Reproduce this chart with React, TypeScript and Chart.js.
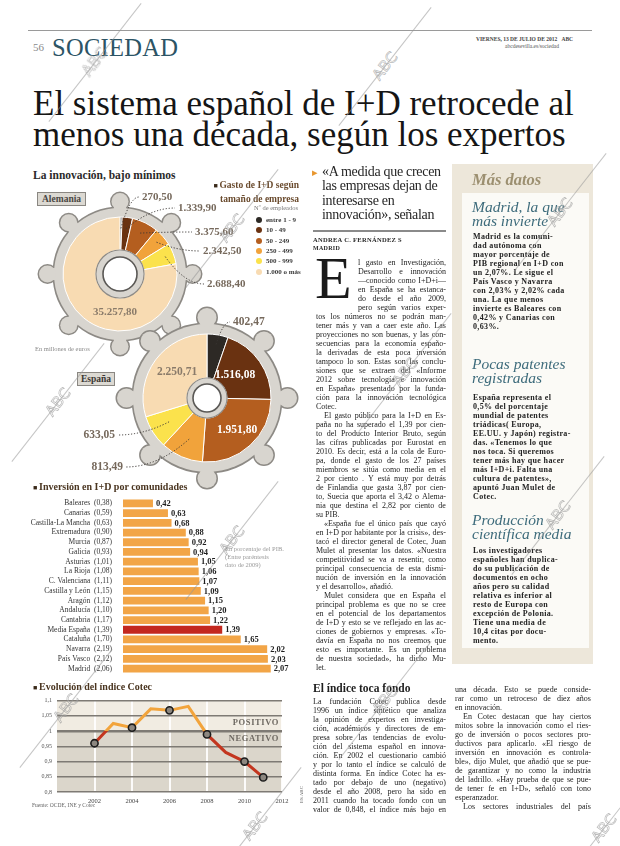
import React, { useEffect, useRef } from 'react';
import { Chart, registerables } from 'chart.js';

Chart.register(...registerables);

const SERIF = '"Liberation Serif", "Times New Roman", serif';
Chart.defaults.font.family = SERIF;

// ---------------- data ----------------
const SIZE_CLASSES = ['entre 1 - 9', '10 - 49', '50 - 249', '250 - 499', '500 - 999', '1.000 o más'];
const SIZE_COLORS = ['#2d2925', '#6a3211', '#b45e1f', '#f1a33b', '#fbe24c', '#f8dbb2'];
const GERMANY_SPEND = [270.5, 1339.9, 3375.6, 2342.5, 2688.4, 35257.8];
const SPAIN_SPEND = [402.47, 1516.08, 1951.8, 813.49, 633.05, 2250.71];

const REGIONS = ['Baleares', 'Canarias', 'Castilla-La Mancha', 'Extremadura', 'Murcia', 'Galicia', 'Asturias', 'La Rioja', 'C. Valenciana', 'Castilla y León', 'Aragón', 'Andalucía', 'Cantabria', 'Media España', 'Cataluña', 'Navarra', 'País Vasco', 'Madrid'];
const REGION_2009 = [0.38, 0.59, 0.63, 0.9, 0.87, 0.93, 1.01, 1.08, 1.11, 1.15, 1.12, 1.1, 1.17, 1.39, 1.7, 2.19, 2.12, 2.06];
const REGION_2010 = [0.42, 0.63, 0.68, 0.88, 0.92, 0.94, 1.05, 1.06, 1.07, 1.09, 1.15, 1.2, 1.22, 1.39, 1.65, 2.02, 2.03, 2.07];
const HIGHLIGHT_REGION = 'Media España';

const COTEC_YEARS = [2002, 2003, 2004, 2005, 2006, 2007, 2008, 2009, 2010, 2011];
const COTEC_INDEX = [0.96, 1.025, 1.011, 1.073, 1.068, 1.081, 0.989, 0.93, 0.9, 0.848];
const COTEC_MARKED = [2002, 2004, 2006, 2008, 2010, 2011];
const COTEC_X_TICKS = [2000, 2002, 2004, 2006, 2008, 2010, 2012];
const COTEC_Y_TICKS = [0.8, 0.85, 0.9, 0.95, 1, 1.05, 1.1];

// ---------------- text ----------------
const HEAD_LINES = ['El sistema español de I+D retrocede al', 'menos una década, según los expertos'];
const QUOTE_LINES = ['«A medida que crecen', 'las empresas dejan de', 'interesarse en', 'innovación», señalan'];
const COL2_TOP = [
  'l gasto en Investigación,', 'Desarrollo e innovación', '—conocido como I+D+i—', 'en España se ha estanca-',
  'do desde el año 2009,', 'pero según varios exper-', 'tos los números no se podrán man-', 'tener más y van a caer este año. Las',
  'proyecciones no son buenas, y las con-', 'secuencias para la economía españo-', 'la derivadas de esta poca inversión',
  'tampoco lo son. Estas son las conclu-', 'siones que se extraen del «Informe', '2012 sobre tecnología e innovación',
  'en España» presentado por la funda-', 'ción para la innovación tecnológica', 'Cotec.$',
  '^El gasto público para la I+D en Es-', 'paña no ha superado el 1,39 por cien-', 'to del Producto Interior Bruto, según',
  'las cifras publicadas por Eurostat en', '2010. Es decir, está a la cola de Euro-', 'pa, donde el gasto de los 27 países',
  'miembros se sitúa como media en el', '2 por ciento . Y está muy por detrás', 'de Finlandia que gasta 3,87 por cien-',
  'to, Suecia que aporta el 3,42 o Alema-', 'nia que destina el 2,82 por ciento de', 'su PIB.$',
  '^«España fue el único país que cayó', 'en I+D por habitante por la crisis», des-', 'tacó el director general de Cotec, Juan',
  'Mulet al presentar los datos. «Nuestra', 'competitividad se va a resentir, como', 'principal consecuencia de esta dismi-',
  'nución de inversión en la innovación', 'y el desarrollo», añadió.$',
  '^Mulet considera que en España el', 'principal problema es que no se cree', 'en el potencial de los departamentos',
  'de I+D y esto se ve reflejado en las ac-', 'ciones de gobiernos y empresas. «To-', 'davía en España no nos creemos que',
  'esto es importante. Es un problema', 'de nuestra sociedad», ha dicho Mu-', 'let.$',
];
const COL2_BOTTOM = [
  'La fundación Cotec publica desde', '1996 un índice sintético que analiza', 'la opinión de expertos en investiga-',
  'ción, académicos y directores de em-', 'presa sobre las tendencias de evolu-', 'ción del sistema español en innova-',
  'ción. En 2002 el cuestionario cambió', 'y por lo tanto el índice se calculó de', 'distinta forma. En índice Cotec ha es-',
  'tado por debajo de uno (negativo)', 'desde el año 2008, pero ha sido en', '2011 cuando ha tocado fondo con un',
  'valor de 0,848, el índice más bajo en',
];
const COL3_BOTTOM = [
  'una década. Esto se puede conside-', 'rar como un retroceso de diez años', 'en innovación.$',
  '^En Cotec destacan que hay ciertos', 'mitos sobre la innovación como el ries-', 'go de inversión o pocos sectores pro-',
  'ductivos para aplicarlo. «El riesgo de', 'inversión en innovación es controla-', 'ble», dijo Mulet, que añadió que se pue-',
  'de garantizar y no como la industria', 'del ladrillo. «Hay prueba de que se pue-', 'de tener fe en I+D», señaló con tono',
  'esperanzador.$', '^Los sectores industriales del país',
];
const BOX_MADRID = ['Madrid es la comuni-', 'dad autónoma con', 'mayor porcentaje de', 'PIB regional en I+D con', 'un 2,07%. Le sigue el', 'País Vasco y Navarra', 'con 2,03% y 2,02% cada', 'una. La que menos', 'invierte es Baleares con', '0,42% y Canarias con', '0,63%.'];
const BOX_PATENTS = ['España representa el', '0,5% del porcentaje', 'mundial de patentes', 'triádicas( Europa,', 'EE.UU. y Japón) registra-', 'das. «Tenemos lo que', 'nos toca. Si queremos', 'tener más hay que hacer', 'más I+D+i. Falta una', 'cultura de patentes»,', 'apuntó Juan Mulet de', 'Cotec.'];
const BOX_SCIENCE = ['Los investigadores', 'españoles han duplica-', 'do su publicación de', 'documentos en ocho', 'años pero su calidad', 'relativa es inferior al', 'resto de Europa con', 'excepción de Polonia.', 'Tiene una media de', '10,4 citas por docu-', 'mento.'];

// watermark anchors (page decoration)
const WATERMARKS: Array<[number, number]> = [
  [95, 62], [385, 66], [232, 228], [560, 212], [405, 372], [58, 402],
  [232, 540], [558, 515], [66, 708], [385, 700], [255, 826], [604, 828],
];

function fmtEs(v: number, d = 2) {
  const [i, f] = v.toFixed(d).split('.');
  const ii = i.replace(/\B(?=(\d{3})+(?!\d))/g, '.');
  return f ? ii + ',' + f : ii;
}

// ---------------- gear doughnuts ----------------
type LabelSpec = { mode: 'in' | 'out'; dx: number; dy: number; align: CanvasTextAlign; color: string; r?: number };
type GearSpec = { ring: number; tip: number; knob: number; neck: number; teeth: number; hole: number; fill: string; stroke: string };

const GERMANY_LABELS: LabelSpec[] = [
  { mode: 'out', dx: 22, dy: -77, align: 'left', color: '#76695c', r: 0.8 },
  { mode: 'out', dx: 58, dy: -66, align: 'left', color: '#76695c', r: 0.8 },
  { mode: 'out', dx: 75, dy: -42, align: 'left', color: '#76695c', r: 0.8 },
  { mode: 'out', dx: 83, dy: -23, align: 'left', color: '#76695c', r: 0.85 },
  { mode: 'out', dx: 87, dy: 10, align: 'left', color: '#76695c', r: 0.85 },
  { mode: 'in', dx: -5, dy: 38, align: 'center', color: '#8a7b6a' },
];
const SPAIN_LABELS: LabelSpec[] = [
  { mode: 'out', dx: 26, dy: -76, align: 'left', color: '#76695c', r: 0.85 },
  { mode: 'in', dx: 28, dy: -23, align: 'center', color: '#ffffff' },
  { mode: 'in', dx: 30, dy: 32, align: 'center', color: '#ffffff' },
  { mode: 'out', dx: -84, dy: 69, align: 'right', color: '#76695c', r: 0.7 },
  { mode: 'out', dx: -92, dy: 37, align: 'right', color: '#76695c', r: 0.7 },
  { mode: 'in', dx: -30, dy: -26, align: 'center', color: '#8a7b6a' },
];

function drawGear(c: CanvasRenderingContext2D, x: number, y: number, R: number, g: GearSpec) {
  const ring = R + g.ring;
  const tipC = R + g.tip - g.knob;
  const shapes: Array<() => void> = [];
  shapes.push(() => { c.beginPath(); c.arc(x, y, ring, 0, Math.PI * 2); });
  for (let k = 0; k < g.teeth; k++) {
    const a = (k * 2 * Math.PI) / g.teeth;
    const ux = Math.sin(a), uy = -Math.cos(a);
    const px = Math.cos(a), py = Math.sin(a);
    const r0 = ring - 4, r1 = tipC, hw = g.neck / 2;
    shapes.push(() => {
      c.beginPath();
      c.moveTo(x + ux * r0 + px * hw, y + uy * r0 + py * hw);
      c.lineTo(x + ux * r1 + px * hw, y + uy * r1 + py * hw);
      c.lineTo(x + ux * r1 - px * hw, y + uy * r1 - py * hw);
      c.lineTo(x + ux * r0 - px * hw, y + uy * r0 - py * hw);
      c.closePath();
    });
    shapes.push(() => { c.beginPath(); c.arc(x + ux * tipC, y + uy * tipC, g.knob, 0, Math.PI * 2); });
  }
  c.save();
  c.lineWidth = 3;
  c.strokeStyle = g.stroke;
  c.fillStyle = g.fill;
  for (const s of shapes) { s(); c.stroke(); }
  for (const s of shapes) { s(); c.fill(); }
  c.restore();
}

function GearDonut(props: {
  values: number[]; labels: LabelSpec[]; left: number; top: number; width: number; height: number;
  cx: number; cy: number; radius: number; inner: number; gear: GearSpec; font: number;
}) {
  const ref = useRef<HTMLCanvasElement>(null);
  useEffect(() => {
    const { values, left, top, width, height, cx, cy, radius, inner, gear, labels, font } = props;
    const rx = cx - left, ry = cy - top;
    const pad = {
      left: Math.max(0, 2 * rx - width), right: Math.max(0, width - 2 * rx),
      top: Math.max(0, 2 * ry - height), bottom: Math.max(0, height - 2 * ry),
    };
    const plugin = {
      id: 'gearDecor',
      beforeDatasetsDraw(chart: any) {
        const arc = chart.getDatasetMeta(0).data[0];
        if (!arc) return;
        drawGear(chart.ctx, arc.x, arc.y, arc.outerRadius, gear);
      },
      afterDatasetsDraw(chart: any) {
        const arcs = chart.getDatasetMeta(0).data;
        if (!arcs.length) return;
        const c: CanvasRenderingContext2D = chart.ctx;
        const { x, y, innerRadius, outerRadius } = arcs[0];
        c.save();
        c.beginPath(); c.arc(x, y, innerRadius, 0, Math.PI * 2);
        c.strokeStyle = gear.stroke; c.lineWidth = 1.2; c.stroke();
        c.beginPath(); c.arc(x, y, gear.hole, 0, Math.PI * 2);
        c.fillStyle = '#ffffff'; c.fill();
        c.strokeStyle = '#5a5855'; c.lineWidth = 1.6; c.stroke();
        arcs.forEach((arc: any, i: number) => {
          const L = labels[i];
          const lx = x + L.dx, ly = y + L.dy;
          if (L.mode === 'out') {
            const mid = (arc.startAngle + arc.endAngle) / 2;
            const rr = (L.r ?? 0.8) * outerRadius;
            const sx = x + Math.cos(mid) * rr, sy = y + Math.sin(mid) * rr;
            const ex = L.align === 'left' ? lx - 3 : lx + 3;
            c.setLineDash([1.2, 1.8]);
            c.lineWidth = 1;
            c.strokeStyle = '#3a3633';
            c.beginPath();
            c.moveTo(sx, sy);
            c.quadraticCurveTo((sx + ex) / 2, ly, ex, ly);
            c.stroke();
            c.setLineDash([]);
          }
          c.font = `bold ${font}px ${SERIF}`;
          c.fillStyle = L.color;
          c.textAlign = L.align;
          c.textBaseline = 'middle';
          c.fillText(fmtEs(values[i]), lx, ly);
        });
        c.restore();
      },
    };
    const chart = new Chart(ref.current!, {
      type: 'doughnut',
      data: {
        labels: SIZE_CLASSES,
        datasets: [{ data: values, backgroundColor: SIZE_COLORS, borderColor: '#ffffff', borderWidth: 1 }],
      },
      options: {
        responsive: false,
        animation: false,
        radius,
        cutout: `${(inner / radius) * 100}%`,
        layout: { padding: pad },
        plugins: { legend: { display: false }, tooltip: { enabled: false } },
      } as any,
      plugins: [plugin],
    });
    return () => chart.destroy();
  }, []);
  return (
    <canvas ref={ref} width={props.width} height={props.height}
      style={{ position: 'absolute', left: props.left, top: props.top, width: props.width, height: props.height }} />
  );
}

// ---------------- bars ----------------
function RegionBars() {
  const ref = useRef<HTMLCanvasElement>(null);
  useEffect(() => {
    const valuePlugin = {
      id: 'barValues',
      afterDatasetsDraw(chart: any) {
        const c: CanvasRenderingContext2D = chart.ctx;
        const meta = chart.getDatasetMeta(0);
        c.save();
        c.font = `bold 8.5px ${SERIF}`;
        c.fillStyle = '#1e1e1e';
        c.textAlign = 'left';
        c.textBaseline = 'middle';
        meta.data.forEach((bar: any, i: number) => {
          c.fillText(fmtEs(REGION_2010[i]), bar.x + 3, bar.y + 0.5);
        });
        c.restore();
      },
    };
    const chart = new Chart(ref.current!, {
      type: 'bar',
      data: {
        labels: REGIONS,
        datasets: [{
          data: REGION_2010,
          backgroundColor: REGIONS.map((r) => (r === HIGHLIGHT_REGION ? '#c3281f' : '#f2a547')),
          borderWidth: 0,
          barPercentage: 0.8,
          categoryPercentage: 1,
        }],
      },
      options: {
        indexAxis: 'y',
        responsive: false,
        animation: false,
        layout: { padding: { top: 3, bottom: 3, left: 0, right: 0 } },
        scales: {
          x: { display: false, min: 0, max: 2.55 },
          y: {
            afterFit: (s: any) => { s.width = 93; },
            grid: { display: false },
            border: { display: false },
            ticks: {
              autoSkip: false,
              padding: 3,
              color: '#333',
              font: { family: SERIF, size: 7.5 },
              callback: (_v: any, i: number) => `${REGIONS[i]}  (${fmtEs(REGION_2009[i])})`,
            },
          },
        },
        plugins: { legend: { display: false }, tooltip: { enabled: false } },
      } as any,
      plugins: [valuePlugin],
    });
    return () => chart.destroy();
  }, []);
  return <canvas ref={ref} width={275} height={190} style={{ position: 'absolute', left: 30, top: 491, width: 275, height: 190 }} />;
}

// ---------------- line ----------------
function CotecLine() {
  const ref = useRef<HTMLCanvasElement>(null);
  useEffect(() => {
    const ORANGE = '#f2a43c', RED = '#c3361f';
    const backdrop = {
      id: 'cotecBackdrop',
      beforeDraw(chart: any) {
        const { ctx: c, chartArea: a, scales } = chart;
        const y1 = scales.y.getPixelForValue(1);
        c.save();
        c.fillStyle = '#f1ece2';
        c.fillRect(a.left, a.top, a.width, y1 - a.top);
        c.fillStyle = '#dbd6cb';
        c.fillRect(a.left, y1, a.width, a.bottom - y1);
        c.restore();
      },
      beforeDatasetsDraw(chart: any) {
        const { ctx: c, chartArea: a, scales } = chart;
        const y1 = scales.y.getPixelForValue(1);
        c.save();
        c.font = `bold 8.5px ${SERIF}`;
        c.fillStyle = '#6e6962';
        c.textAlign = 'right';
        c.textBaseline = 'middle';
        (c as any).letterSpacing = '0.6px';
        c.fillText('POSITIVO', a.right - 3, y1 - 8);
        c.fillText('NEGATIVO', a.right - 3, y1 + 8);
        c.restore();
      },
    };
    const chart = new Chart(ref.current!, {
      type: 'line',
      data: {
        datasets: [{
          data: COTEC_YEARS.map((x, i) => ({ x, y: COTEC_INDEX[i] })),
          borderColor: (ctx: any) => {
            const { chart } = ctx;
            const a = chart.chartArea;
            if (!a) return ORANGE;
            const y1 = chart.scales.y.getPixelForValue(1);
            const g = chart.ctx.createLinearGradient(0, a.top, 0, a.bottom);
            const t = Math.min(1, Math.max(0, (y1 - a.top) / (a.bottom - a.top)));
            g.addColorStop(0, ORANGE); g.addColorStop(t, ORANGE);
            g.addColorStop(t, RED); g.addColorStop(1, RED);
            return g;
          },
          borderWidth: 3,
          tension: 0,
          fill: false,
          pointRadius: (ctx: any) => (COTEC_MARKED.includes(COTEC_YEARS[ctx.dataIndex]) ? 3.6 : 0),
          pointBackgroundColor: '#8c8780',
          pointBorderColor: '#1c1c1c',
          pointBorderWidth: 1.6,
        }],
      },
      options: {
        responsive: false,
        animation: false,
        layout: { padding: { top: 7, right: 18, bottom: 2, left: 0 } },
        scales: {
          x: {
            type: 'linear', min: 2000, max: 2012,
            afterBuildTicks: (s: any) => { s.ticks = COTEC_X_TICKS.map((v) => ({ value: v })); },
            afterFit: (s: any) => { s.height = 14; },
            grid: {
              color: (c: any) => (c.tick && c.tick.value === 2000 ? 'rgba(0,0,0,0)' : 'rgba(255,255,255,0.9)'),
              lineWidth: 2, drawTicks: false,
            },
            border: { display: false },
            ticks: {
              autoSkip: false, maxRotation: 0, padding: 5, color: '#444',
              font: { family: SERIF, size: 6.5 },
              callback: (v: any) => (v === 2000 ? '' : String(v)),
            },
          },
          y: {
            min: 0.8, max: 1.1,
            afterBuildTicks: (s: any) => { s.ticks = COTEC_Y_TICKS.map((v) => ({ value: v })); },
            afterFit: (s: any) => { s.width = 27; },
            grid: {
              color: '#7e7a74',
              lineWidth: (c: any) => (c.tick && c.tick.value === 1 ? 2.4 : 1.4),
              drawTicks: false,
            },
            border: { display: false },
            ticks: {
              padding: 5, color: '#555', font: { family: SERIF, size: 6 },
              callback: (v: any) => String(v).replace('.', ','),
            },
          },
        },
        plugins: { legend: { display: false }, tooltip: { enabled: false } },
      } as any,
      plugins: [backdrop],
    });
    return () => chart.destroy();
  }, []);
  return <canvas ref={ref} width={270} height={116} style={{ position: 'absolute', left: 30, top: 692, width: 270, height: 116 }} />;
}

// ---------------- text helpers ----------------
function Lines(p: {
  lines: string[]; left: number; top: number; width: number; lh?: number; size?: number; bold?: boolean;
  justify?: boolean; indent?: number; drop?: number; dropIndent?: number; color?: string; spacing?: number;
}) {
  const { lines, left, top, width, lh = 9, size = 8, bold = false, justify = true, indent = 8, drop = 0, dropIndent = 0, color = '#232323', spacing = 0 } = p;
  return (
    <div style={{ position: 'absolute', left, top, width, fontSize: size, lineHeight: `${lh}px`, fontWeight: bold ? 700 : 400, color, letterSpacing: spacing }}>
      {lines.map((raw, i) => {
        let s = raw, pad = 0, last = !justify;
        if (s.startsWith('^')) { s = s.slice(1); pad = indent; }
        if (s.endsWith('$')) { s = s.slice(0, -1); last = true; }
        if (i < drop) pad += dropIndent;
        const words = s.split(' ').filter(Boolean);
        return (
          <div key={i} style={{ height: lh, paddingLeft: pad, display: 'flex', justifyContent: last ? 'flex-start' : 'space-between', whiteSpace: 'pre', columnGap: last ? 0 : 1 }}>
            {last ? s : words.map((w, j) => <span key={j}>{w}</span>)}
          </div>
        );
      })}
    </div>
  );
}

function Watermark({ x, y }: { x: number; y: number }) {
  return (
    <>
      <div style={{ position: 'absolute', left: x - 75, top: y, width: 150, height: 1, background: 'rgba(150,150,150,0.55)', transform: 'rotate(-52deg)', transformOrigin: 'center' }} />
      <div style={{ position: 'absolute', left: x - 20, top: y - 9, width: 40, textAlign: 'center', fontFamily: '"DejaVu Sans", sans-serif', fontSize: 15, lineHeight: '18px', color: 'rgba(255,255,255,0.2)', WebkitTextStroke: '0.7px rgba(140,140,140,0.6)', transform: 'rotate(-52deg)', transformOrigin: 'center' } as any}>ABC</div>
    </>
  );
}

const abs = (left: number, top: number, extra: React.CSSProperties = {}): React.CSSProperties => ({ position: 'absolute', left, top, whiteSpace: 'nowrap', ...extra });

export default function App() {
  return (
    <div style={{ position: 'absolute', left: 0, top: 0, width: 620, height: 846, background: '#ffffff', overflow: 'hidden', fontFamily: SERIF, color: '#222' }}>
      {/* header */}
      <div style={abs(28, 30, { width: 564, height: 1, background: '#9a9a9a' })} />
      <div style={abs(33, 41, { fontSize: 11, color: '#8a8a8a' })}>56</div>
      <div style={abs(52, 33, { fontSize: 24.5, color: '#2c5465', letterSpacing: 0.3, lineHeight: '30px' })}>SOCIEDAD</div>
      <div style={abs(476, 36, { fontSize: 5.5, fontWeight: 700, color: '#444', lineHeight: '7px' })}>VIERNES, 13 DE JULIO DE 2012&nbsp;&nbsp;&nbsp;ABC</div>
      <div style={abs(505, 43, { fontSize: 5.5, color: '#555', lineHeight: '7px' })}>abcdesevilla.es/sociedad</div>

      <div style={abs(33, 88, { fontSize: 35, lineHeight: '31px', color: '#151515' })}>
        {HEAD_LINES.map((l, i) => <div key={i}>{l}</div>)}
      </div>

      {/* left column: charts */}
      <div style={abs(33, 169, { fontSize: 11.5, fontWeight: 700, color: '#2a2a2a' })}>La innovación, bajo mínimos</div>

      <GearDonut values={GERMANY_SPEND} labels={GERMANY_LABELS} left={20} top={180} width={240} height={190}
        cx={120} cy={274} radius={57} inner={24} font={11}
        gear={{ ring: 9, tip: 24, knob: 8.5, neck: 12, teeth: 8, hole: 17, fill: '#d8d5cf', stroke: '#8d8a85' }} />
      <GearDonut values={SPAIN_SPEND} labels={SPAIN_LABELS} left={70} top={300} width={240} height={196}
        cx={207} cy={398} radius={64} inner={20} font={11.5}
        gear={{ ring: 10, tip: 26, knob: 9.5, neck: 13, teeth: 8, hole: 14, fill: '#d8d5cf', stroke: '#8d8a85' }} />

      <div style={abs(37, 192, { fontSize: 9.5, fontWeight: 700, color: '#4a4744', background: '#dcd9d2', border: '1px solid #8a8782', padding: '0 4px', lineHeight: '12px' })}>Alemania</div>
      <div style={abs(77, 372, { fontSize: 9.5, fontWeight: 700, color: '#3a3734', background: '#dcd9d2', border: '1px solid #8a8782', padding: '0 3px', lineHeight: '12px' })}>España</div>
      <div style={abs(35, 345, { fontSize: 6.5, color: '#8a8a8a' })}>En millones de euros</div>

      <div style={abs(200, 178.5, { width: 99, textAlign: 'right', fontSize: 9.5, fontWeight: 700, color: '#6a4b2e', lineHeight: '13px' })}>
        <span style={{ fontSize: 7, color: '#3a2a1a' }}>■ </span>Gasto de I+D según<br />tamaño de empresa
      </div>
      <div style={abs(230, 204, { width: 68, textAlign: 'right', fontSize: 6.5, color: '#7a7a7a' })}>Nº de empleados</div>
      {SIZE_CLASSES.map((cl, i) => (
        <div key={cl} style={abs(256, 215.5 + i * 10.3, { height: 9, display: 'flex', alignItems: 'center', fontSize: 7, fontWeight: 700, color: '#3a3a3a' })}>
          <span style={{ display: 'inline-block', width: 6, height: 6, borderRadius: 3, background: SIZE_COLORS[i], marginRight: 4 }} />
          {cl}
        </div>
      ))}

      <div style={abs(33, 481, { fontSize: 10, fontWeight: 700, color: '#4a3520' })}>
        <span style={{ fontSize: 7, color: '#3a2a1a' }}>■ </span>Inversión en I+D por comunidades
      </div>
      <RegionBars />
      <div style={abs(225, 545, { fontSize: 6.5, color: '#9a9a9a', lineHeight: '8px' })}>
        En porcentaje del PIB.<br />(Entre paréntesis<br />dato de 2009)
      </div>

      <div style={abs(33, 681, { fontSize: 10, fontWeight: 700, color: '#4a3520' })}>
        <span style={{ fontSize: 7, color: '#3a2a1a' }}>■ </span>Evolución del índice Cotec
      </div>
      <CotecLine />
      <div style={abs(32, 802, { fontSize: 5.5, color: '#666' })}>Fuente: OCDE, INE y Cotec</div>
      <div style={abs(293, 792, { fontSize: 5, color: '#666', transform: 'rotate(-90deg)' })}>ES ABC</div>

      {/* middle column */}
      <div style={abs(312, 166, { fontSize: 11, color: '#e8962e' })}>▸</div>
      <div style={abs(322, 165, { fontSize: 14, lineHeight: '14.3px', color: '#262626', letterSpacing: -0.3 })}>
        {QUOTE_LINES.map((l, i) => <div key={i}>{l}</div>)}
      </div>
      <div style={abs(313, 230, { width: 133, height: 2, background: '#8a8a8a' })} />
      <div style={abs(313, 236, { fontSize: 6.5, fontWeight: 700, letterSpacing: 0.3, color: '#2a2a2a' })}>ANDREA C. FERNÁNDEZ S</div>
      <div style={abs(313, 245, { fontSize: 6, fontWeight: 700, letterSpacing: 0.3, color: '#2a2a2a' })}>MADRID</div>
      <div style={abs(315, 248, { fontSize: 60, lineHeight: '60px', color: '#1a1a1a' })}>E</div>
      <Lines lines={COL2_TOP} left={316} top={257.5} width={130} drop={6} dropIndent={42} />

      <div style={abs(313, 682, { fontSize: 11.5, fontWeight: 700, color: '#1e1e1e' })}>El índice toca fondo</div>
      <Lines lines={COL2_BOTTOM} left={313} top={696.5} width={133} />

      {/* right column: Más datos */}
      <div style={abs(452, 164, { width: 141, height: 500, background: '#ede7da' })} />
      <div style={abs(462, 193, { width: 127, height: 455, background: '#fbfaf6' })} />
      <div style={abs(472, 170, { fontSize: 16.5, fontWeight: 700, fontStyle: 'italic', color: '#9c8f70' })}>Más datos</div>

      <div style={abs(472, 200, { fontSize: 15.5, fontStyle: 'italic', color: '#3d6b7b', lineHeight: '14px' })}>Madrid, la que<br />más invierte</div>
      <Lines lines={BOX_MADRID} left={473} top={231.5} width={112} bold justify={false} spacing={0.35} />

      <div style={abs(472, 357, { fontSize: 15.5, fontStyle: 'italic', color: '#3d6b7b', lineHeight: '14px' })}>Pocas patentes<br />registradas</div>
      <Lines lines={BOX_PATENTS} left={473} top={392.5} width={112} bold justify={false} spacing={0.35} />

      <div style={abs(472, 513, { fontSize: 15.5, fontStyle: 'italic', color: '#3d6b7b', lineHeight: '14px' })}>Producción<br />científica media</div>
      <Lines lines={BOX_SCIENCE} left={473} top={545.5} width={112} bold justify={false} spacing={0.35} />

      <Lines lines={COL3_BOTTOM} left={455} top={684.5} width={136} />

      {WATERMARKS.map(([x, y], i) => <Watermark key={i} x={x} y={y} />)}
    </div>
  );
}
